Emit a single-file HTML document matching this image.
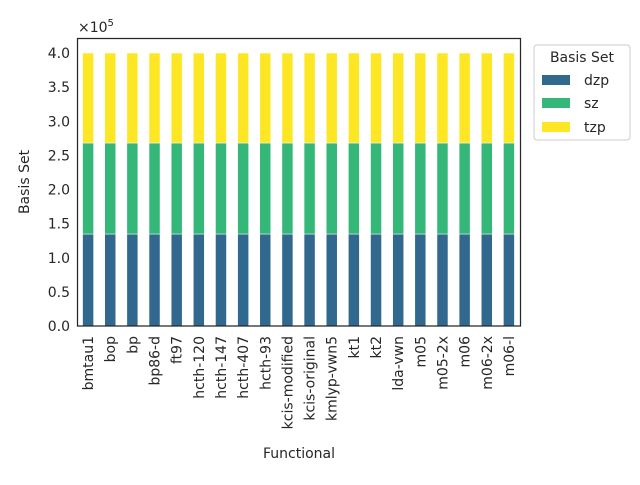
<!DOCTYPE html><html><head><style>body{margin:0;background:#fff}</style></head><body>
<svg width="640" height="480" xmlns="http://www.w3.org/2000/svg" font-family="DejaVu Sans, Liberation Sans, sans-serif" fill="#262626">
<g id="bars"></g>
<rect x="77.5" y="38.5" width="443" height="287.5" fill="none" stroke="#262626" stroke-width="1.25"/>
<g id="yl" font-size="14" text-anchor="end"></g>
<text x="78" y="32" font-size="14">×10<tspan font-size="10" dy="-6">5</tspan></text>
<text transform="translate(29,182) rotate(-90)" font-size="14" text-anchor="middle">Basis Set</text>
<text x="299" y="458" font-size="14" text-anchor="middle">Functional</text>
<g id="xl" font-size="14" text-anchor="end"></g>
<rect x="534" y="45" width="96" height="95" rx="3" fill="#fff" stroke="#ccc"/>
<text x="582" y="62" font-size="14" text-anchor="middle">Basis Set</text>
<rect x="542" y="75" width="28" height="10" fill="#31688e"/><text x="584" y="85" font-size="14">dzp</text>
<rect x="542" y="98" width="28" height="10" fill="#35b779"/><text x="584" y="108" font-size="14">sz</text>
<rect x="542" y="122" width="28" height="10" fill="#fde725"/><text x="584" y="132" font-size="14">tzp</text>
</svg>
<script>
var n=["bmtau1","bop","bp","bp86-d","ft97","hcth-120","hcth-147","hcth-407","hcth-93","kcis-modified","kcis-original","kmlyp-vwn5","kt1","kt2","lda-vwn","m05","m05-2x","m06","m06-2x","m06-l"];
var s="",t="";
for(var i=0;i<20;i++){var c=77+22.15*(i+0.5),x=c-5.5;
s+='<rect x="'+x+'" y="234" width="11" height="92" fill="#31688e" stroke="#fff" stroke-width="0.5"/>';
s+='<rect x="'+x+'" y="143" width="11" height="91" fill="#35b779" stroke="#fff" stroke-width="0.5"/>';
s+='<rect x="'+x+'" y="53" width="11" height="90" fill="#fde725" stroke="#fff" stroke-width="0.5"/>';
t+='<text transform="translate('+(c+5)+',336) rotate(-90)">'+n[i]+'</text>';}
document.getElementById('bars').innerHTML=s;document.getElementById('xl').innerHTML=t;
var h="";
for(var k=0;k<=8;k++){h+='<text x="70" y="'+(331-68.25*k/2)+'">'+(k/2).toFixed(1)+'</text>';}
document.getElementById('yl').innerHTML=h;
</script>
</body></html>
